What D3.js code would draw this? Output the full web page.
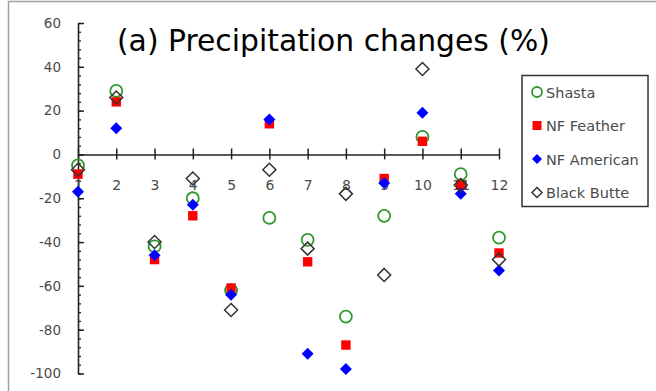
<!DOCTYPE html>
<html>
<head>
<meta charset="utf-8">
<script src="https://cdn.jsdelivr.net/npm/d3@7"></script>
<style>
  html, body { margin: 0; padding: 0; background: #fff; }
  svg { display: block; }
</style>
</head>
<body>
<svg id="chart" width="656" height="391"></svg>
<script>
const months = [1, 2, 3, 4, 5, 6, 7, 8, 9, 10, 11, 12];
const shasta     = [-5, 29, -42, -20, -62, -29, -39, -74, -28, 8, -9, -38];
const nfFeather  = [-9, 24, -48, -28, -61, 14, -49, -87, -11, 6, -14, -45];
const nfAmerican = [-17, 12, -46, -23, -64, 16, -91, -98, -13, 19, -18, -53];
const blackButte = [-7, 26, -40, -11, -71, -7, -43, -18, -55, 39, -14, -48];
const seriesNames = ["Shasta", "NF Feather", "NF American", "Black Butte"];
const yTicks = [60, 40, 20, 0, -20, -40, -60, -80, -100];
const titleText = "(a) Precipitation changes (%)";

const svg = d3.select("#chart");
const font = "DejaVu Sans, Verdana, sans-serif";

// outer border (chart area frame, cropped at right/bottom)
svg.append("rect").attr("x", 8.5).attr("y", 1.5).attr("width", 700).attr("height", 500)
  .attr("fill", "#fff").attr("stroke", "#a0a0a0").attr("stroke-width", 1.5);

const x = d3.scaleLinear().domain([1, 12]).range([78, 499]);
const y = d3.scaleLinear().domain([-100, 60]).range([373.5, 23]);

// minor y ticks
svg.append("g").attr("transform", "translate(78,0)")
  .call(d3.axisLeft(y).tickValues(d3.range(-100, 61, 4)).tickSizeInner(-3).tickSizeOuter(0).tickFormat(""))
  .call(g => g.select(".domain").remove())
  .call(g => g.selectAll("line").attr("stroke", "#222").attr("stroke-width", 1.3));

// major y axis
svg.append("g").attr("transform", "translate(78,0)")
  .call(d3.axisLeft(y).tickValues(yTicks).tickSizeInner(-6).tickSizeOuter(0).tickPadding(17)
    .tickFormat(d => String(d)))
  .call(g => g.select(".domain").attr("stroke", "#222").attr("stroke-width", 1.6))
  .call(g => g.selectAll("line").attr("stroke", "#222").attr("stroke-width", 1.5))
  .call(g => g.selectAll("text").attr("font-family", font).attr("font-size", 13.5).attr("fill", "#4a4a4a"));

// x axis at y=0
svg.append("g").attr("transform", `translate(0,${y(0)})`)
  .call(d3.axisBottom(x).tickValues(months).tickSizeInner(5).tickSizeOuter(0).tickPadding(21)
    .tickFormat(d => String(d)))
  .call(g => g.select(".domain").attr("stroke", "#222").attr("stroke-width", 1.6))
  .call(g => g.selectAll("line").attr("y1", -6).attr("stroke", "#222").attr("stroke-width", 1.5))
  .call(g => g.selectAll("text").attr("font-family", font).attr("font-size", 14).attr("fill", "#4a4a4a"));

// title
svg.append("text").attr("x", 117).attr("y", 51).attr("font-family", font)
  .attr("font-size", 29.8).attr("fill", "#000").text(titleText);

// marker drawers
const diamondPath = (r) => `M0,${-r}L${r},0L0,${r}L${-r},0Z`;
const drawers = [
  (g) => g.append("circle").attr("r", 6).attr("fill", "none").attr("stroke", "#2e9a2e").attr("stroke-width", 1.8),
  (g) => g.append("rect").attr("x", -4.7).attr("y", -4.7).attr("width", 9.4).attr("height", 9.4).attr("fill", "#ff0000"),
  (g) => g.append("path").attr("d", diamondPath(6)).attr("fill", "#0000ff"),
  (g) => g.append("path").attr("d", diamondPath(6.5)).attr("fill", "none").attr("stroke", "#333").attr("stroke-width", 1.5)
];
const allSeries = [shasta, nfFeather, nfAmerican, blackButte];

allSeries.forEach((vals, i) => {
  const g = svg.append("g");
  g.selectAll("g").data(months).join("g")
    .attr("transform", (m, j) => `translate(${x(m)},${y(vals[j])})`)
    .each(function () { drawers[i](d3.select(this)); });
});

// legend
const legend = svg.append("g");
legend.append("rect").attr("x", 522).attr("y", 75.5).attr("width", 126).attr("height", 131)
  .attr("fill", "#fff").attr("stroke", "#333").attr("stroke-width", 1.5);
const legY = [92, 125.5, 159, 192.5];
seriesNames.forEach((name, i) => {
  const g = legend.append("g").attr("transform", `translate(537,${legY[i]})`);
  const mg = g.append("g");
  if (i === 0) mg.append("circle").attr("r", 5).attr("fill", "none").attr("stroke", "#2e9a2e").attr("stroke-width", 1.8);
  if (i === 1) mg.append("rect").attr("x", -4.5).attr("y", -4.5).attr("width", 9).attr("height", 9).attr("fill", "#ff0000");
  if (i === 2) mg.append("path").attr("d", diamondPath(5)).attr("fill", "#0000ff");
  if (i === 3) mg.append("path").attr("d", diamondPath(5)).attr("fill", "none").attr("stroke", "#333").attr("stroke-width", 1.5);
  g.append("text").attr("x", 9).attr("y", 5.5).attr("font-family", font).attr("font-size", 14.5)
    .attr("fill", "#4a4a4a").text(name);
});
</script>
</body>
</html>
